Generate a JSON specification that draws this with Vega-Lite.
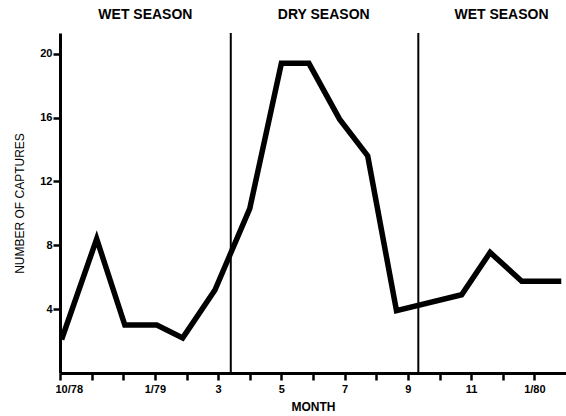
{
  "$schema": "https://vega.github.io/schema/vega-lite/v6.json",
  "width": 506,
  "height": 340,
  "autosize": {"type": "none"},
  "padding": {"left": 60, "top": 33, "right": 0, "bottom": 43},
  "background": "white",
  "config": {
    "view": {"stroke": null},
    "font": "Liberation Sans",
    "axis": {
      "domainColor": "black",
      "domainWidth": 3,
      "tickColor": "black",
      "tickWidth": 2.5,
      "tickSize": 7,
      "grid": false,
      "labelColor": "black",
      "labelFont": "Liberation Sans",
      "labelFontWeight": "bold",
      "labelFontSize": 11,
      "titleColor": "black",
      "titleFont": "Liberation Sans"
    }
  },
  "datasets": {
    "captures": [
      {"month": 0.05, "captures": 2.1},
      {"month": 1.16, "captures": 8.4},
      {"month": 2.05, "captures": 3.0},
      {"month": 3.06, "captures": 3.0},
      {"month": 3.88, "captures": 2.2},
      {"month": 4.9, "captures": 5.2},
      {"month": 6.0, "captures": 10.3},
      {"month": 7.0, "captures": 19.4},
      {"month": 7.87, "captures": 19.4},
      {"month": 8.84, "captures": 15.9},
      {"month": 9.73, "captures": 13.6},
      {"month": 10.64, "captures": 3.9},
      {"month": 12.7, "captures": 4.9},
      {"month": 13.6, "captures": 7.55},
      {"month": 14.6, "captures": 5.75},
      {"month": 15.85, "captures": 5.75}
    ],
    "seasons": [
      {"boundary": 5.4, "bottom": 0, "top": 21.3},
      {"boundary": 11.33, "bottom": 0, "top": 21.3}
    ],
    "labels": [
      {"center": 2.7, "level": 22.4, "label": "WET  SEASON"},
      {"center": 8.34, "level": 22.4, "label": "DRY  SEASON"},
      {"center": 13.96, "level": 22.4, "label": "WET  SEASON"}
    ]
  },
  "layer": [
    {
      "data": {"name": "captures"},
      "mark": {"type": "line", "color": "black", "strokeWidth": 5.5, "strokeJoin": "miter", "strokeCap": "butt"},
      "encoding": {
        "x": {
          "field": "month",
          "type": "quantitative",
          "scale": {"domain": [0, 16], "nice": false, "zero": false},
          "axis": {
            "title": "MONTH",
            "titleFontSize": 12,
            "titleFontWeight": "bold",
            "titlePadding": 7,
            "values": [0, 1, 2, 3, 4, 5, 6, 7, 8, 9, 10, 11, 12, 13, 14, 15],
            "labelExpr": "datum.value == 0 ? '10/78' : datum.value == 3 ? '1/79' : datum.value == 5 ? '3' : datum.value == 7 ? '5' : datum.value == 9 ? '7' : datum.value == 11 ? '9' : datum.value == 13 ? '11' : datum.value == 15 ? '1/80' : ''",
            "labelFlush": true,
            "labelFlushOffset": 5,
            "labelPadding": 3,
            "labelOverlap": false
          }
        },
        "y": {
          "field": "captures",
          "type": "quantitative",
          "scale": {"domain": [0, 21.3], "nice": false},
          "axis": {
            "title": "NUMBER OF CAPTURES",
            "titleFontSize": 12,
            "titleFontWeight": "normal",
            "titlePadding": 13,
            "values": [4, 8, 12, 16, 20],
            "labelPadding": 1
          }
        }
      }
    },
    {
      "data": {"name": "seasons"},
      "mark": {"type": "rule", "color": "black", "strokeWidth": 2},
      "encoding": {
        "x": {
          "field": "boundary",
          "type": "quantitative",
          "axis": {
            "title": "MONTH",
            "titleFontSize": 12,
            "titleFontWeight": "bold",
            "titlePadding": 7,
            "values": [0, 1, 2, 3, 4, 5, 6, 7, 8, 9, 10, 11, 12, 13, 14, 15],
            "labelExpr": "datum.value == 0 ? '10/78' : datum.value == 3 ? '1/79' : datum.value == 5 ? '3' : datum.value == 7 ? '5' : datum.value == 9 ? '7' : datum.value == 11 ? '9' : datum.value == 13 ? '11' : datum.value == 15 ? '1/80' : ''",
            "labelFlush": true,
            "labelFlushOffset": 5,
            "labelPadding": 3,
            "labelOverlap": false
          }
        },
        "y": {
          "field": "bottom",
          "type": "quantitative",
          "axis": {
            "title": "NUMBER OF CAPTURES",
            "titleFontSize": 12,
            "titleFontWeight": "normal",
            "titlePadding": 13,
            "values": [4, 8, 12, 16, 20],
            "labelPadding": 1
          }
        },
        "y2": {"field": "top"}
      }
    },
    {
      "data": {"name": "labels"},
      "mark": {"type": "text", "fontWeight": "bold", "fontSize": 14, "color": "black", "font": "Liberation Sans"},
      "encoding": {
        "x": {
          "field": "center",
          "type": "quantitative",
          "axis": {
            "title": "MONTH",
            "titleFontSize": 12,
            "titleFontWeight": "bold",
            "titlePadding": 7,
            "values": [0, 1, 2, 3, 4, 5, 6, 7, 8, 9, 10, 11, 12, 13, 14, 15],
            "labelExpr": "datum.value == 0 ? '10/78' : datum.value == 3 ? '1/79' : datum.value == 5 ? '3' : datum.value == 7 ? '5' : datum.value == 9 ? '7' : datum.value == 11 ? '9' : datum.value == 13 ? '11' : datum.value == 15 ? '1/80' : ''",
            "labelFlush": true,
            "labelFlushOffset": 5,
            "labelPadding": 3,
            "labelOverlap": false
          }
        },
        "y": {
          "field": "level",
          "type": "quantitative",
          "axis": {
            "title": "NUMBER OF CAPTURES",
            "titleFontSize": 12,
            "titleFontWeight": "normal",
            "titlePadding": 13,
            "values": [4, 8, 12, 16, 20],
            "labelPadding": 1
          }
        },
        "text": {"field": "label"}
      }
    }
  ]
}
